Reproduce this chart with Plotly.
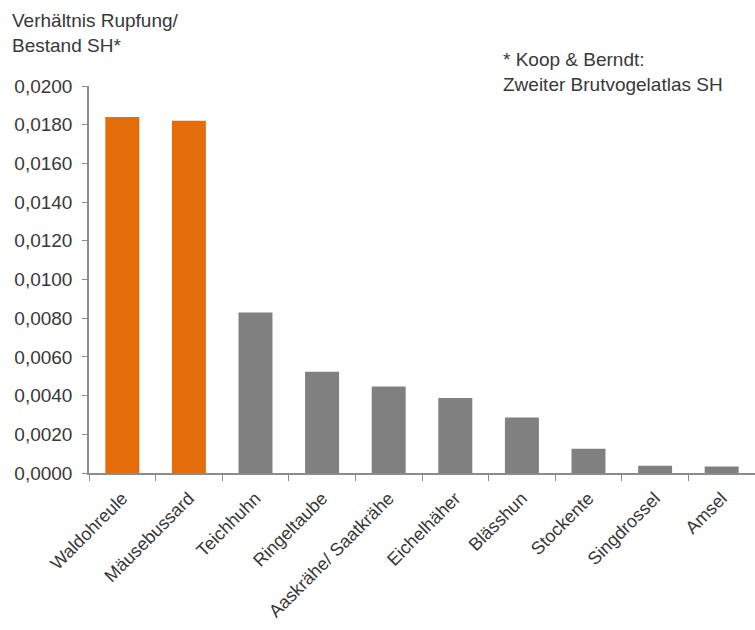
import plotly.graph_objects as go

# Verhältnis Rupfung / Bestand je Vogelart
arten = ["Waldohreule", "Mäusebussard", "Teichhuhn", "Ringeltaube",
         "Aaskrähe/ Saatkrähe", "Eichelhäher", "Blässhun", "Stockente",
         "Singdrossel", "Amsel"]
verhaeltnis = [0.0184, 0.0182, 0.0083, 0.00523, 0.00447, 0.00387,
               0.00287, 0.00125, 0.00038, 0.00034]
greifvoegel = ["Waldohreule", "Mäusebussard"]

ORANGE = "#E46C0A"
GRAU = "#808080"
TEXT = "#383838"
FONT = "Liberation Sans, Arial, sans-serif"

farben = [ORANGE if a in greifvoegel else GRAU for a in arten]

fig = go.Figure(go.Bar(x=arten, y=verhaeltnis, marker_color=farben,
                       marker_line_width=0))

PLOT_H = 387.5
PLOT_W = 666

fig.update_layout(
    width=755, height=630,
    margin=dict(l=89, r=0, t=86, b=157),
    paper_bgcolor="white", plot_bgcolor="white",
    separators=",.",
    bargap=0.49,
    showlegend=False,
    font=dict(family=FONT, size=18, color=TEXT),
    xaxis=dict(
        tickangle=-45, tickson="boundaries", ticks="outside", ticklen=6,
        ticklabelstandoff=6,
        tickcolor="#8c8c8c", showline=True, linecolor="#8c8c8c", linewidth=1.5,
        showgrid=False, tickfont=dict(size=18, color=TEXT),
    ),
    yaxis=dict(
        range=[0, 0.02], dtick=0.002, tickformat=".4f", ticks="outside",
        ticklen=5, ticklabelstandoff=6, tickcolor="#8c8c8c", showline=True,
        linecolor="#8c8c8c", linewidth=1.5, showgrid=False, zeroline=False,
        tickfont=dict(size=19, color=TEXT),
    ),
    annotations=[
        dict(text="Verhältnis Rupfung/<br>Bestand SH*", xref="paper", yref="paper",
             x=-(89 - 10) / PLOT_W, y=1 + (86 - 8) / PLOT_H, xanchor="left",
             yanchor="top", align="left", showarrow=False,
             font=dict(size=19, color=TEXT)),
        dict(text="* Koop & Berndt:<br>Zweiter Brutvogelatlas SH", xref="paper",
             yref="paper", x=(501 - 89) / PLOT_W, y=1 + (86 - 47) / PLOT_H,
             xanchor="left", yanchor="top", align="left", showarrow=False,
             font=dict(size=19, color=TEXT)),
    ],
)

fig.write_html("out.html")
